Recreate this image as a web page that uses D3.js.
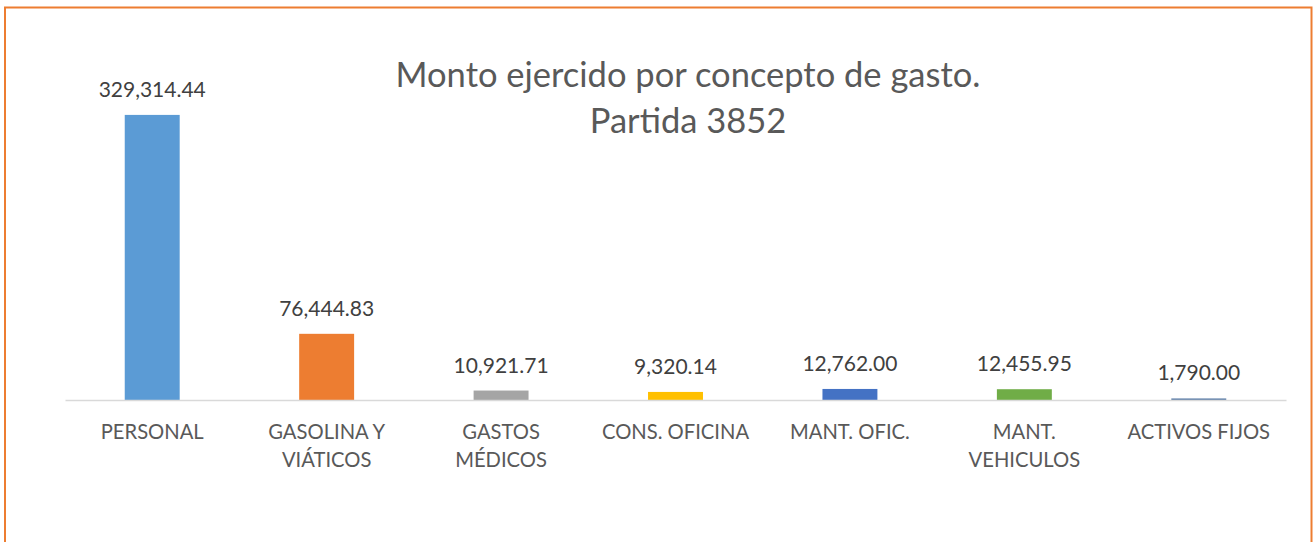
<!DOCTYPE html>
<html>
<head>
<meta charset="utf-8">
<script src="https://cdn.jsdelivr.net/npm/d3@7"></script>
<style>
  html, body { margin: 0; padding: 0; background: #fff; }
  svg { display: block; }
  text { font-family: Lato, "Open Sans", sans-serif; }
</style>
</head>
<body>
<svg id="chart" width="1313" height="542"></svg>
<script>
const categories = ["PERSONAL", "GASOLINA Y\nVIÁTICOS", "GASTOS\nMÉDICOS", "CONS. OFICINA", "MANT. OFIC.", "MANT.\nVEHICULOS", "ACTIVOS FIJOS"];
const values = [329314.44, 76444.83, 10921.71, 9320.14, 12762.00, 12455.95, 1790.00];
const colors = ["#5B9BD5", "#ED7D31", "#A5A5A5", "#FFC000", "#4472C4", "#70AD47", "#5A7BA6"];
const titleLines = ["Monto ejercido por concepto de gasto.", "Partida 3852"];

const svg = d3.select("#chart");

// outer orange frame
svg.append("rect")
  .attr("x", 5).attr("y", 7.5)
  .attr("width", 1306.5).attr("height", 560)
  .attr("fill", "#fff")
  .attr("stroke", "#ED7D31").attr("stroke-width", 2);

const plot = { left: 65, right: 1286, top: 97, bottom: 400 };

const x = d3.scaleBand()
  .domain(categories)
  .range([plot.left, plot.right])
  .paddingInner(0.685)
  .paddingOuter(0.3425);

const y = d3.scaleLinear()
  .domain([0, 350000])
  .range([plot.bottom, plot.top]);

// title
const title = svg.append("text")
  .attr("text-anchor", "middle")
  .attr("fill", "#595959")
  .attr("font-size", 34.5);
titleLines.forEach((t, i) => {
  title.append("tspan").attr("x", 688).attr("y", 87 + i * 46).text(t);
});

// bars
svg.selectAll("rect.bar")
  .data(values)
  .join("rect")
  .attr("class", "bar")
  .attr("x", (d, i) => x(categories[i]))
  .attr("width", x.bandwidth())
  .attr("y", d => y(d))
  .attr("height", d => y(0) - y(d))
  .attr("fill", (d, i) => colors[i]);

// axis
const xAxis = svg.append("g")
  .attr("transform", `translate(0,${plot.bottom})`)
  .call(d3.axisBottom(x).tickSize(0).tickFormat(""));
xAxis.select(".domain").attr("stroke", "#D9D9D9").attr("stroke-width", 1.5);

// category labels
const fmt = d3.format(",.2f");
categories.forEach((c, i) => {
  const t = svg.append("text")
    .attr("text-anchor", "middle")
    .attr("fill", "#595959")
    .attr("font-size", 20.2);
  c.split("\n").forEach((line, j) => {
    t.append("tspan")
      .attr("x", x(c) + x.bandwidth() / 2)
      .attr("y", 439 + j * 28)
      .text(line);
  });
});

// value labels
svg.selectAll("text.val")
  .data(values)
  .join("text")
  .attr("class", "val")
  .attr("text-anchor", "middle")
  .attr("fill", "#404040")
  .attr("font-size", 21)
  .attr("x", (d, i) => x(categories[i]) + x.bandwidth() / 2)
  .attr("y", d => y(d) - 18)
  .text(d => fmt(d));
</script>
</body>
</html>
